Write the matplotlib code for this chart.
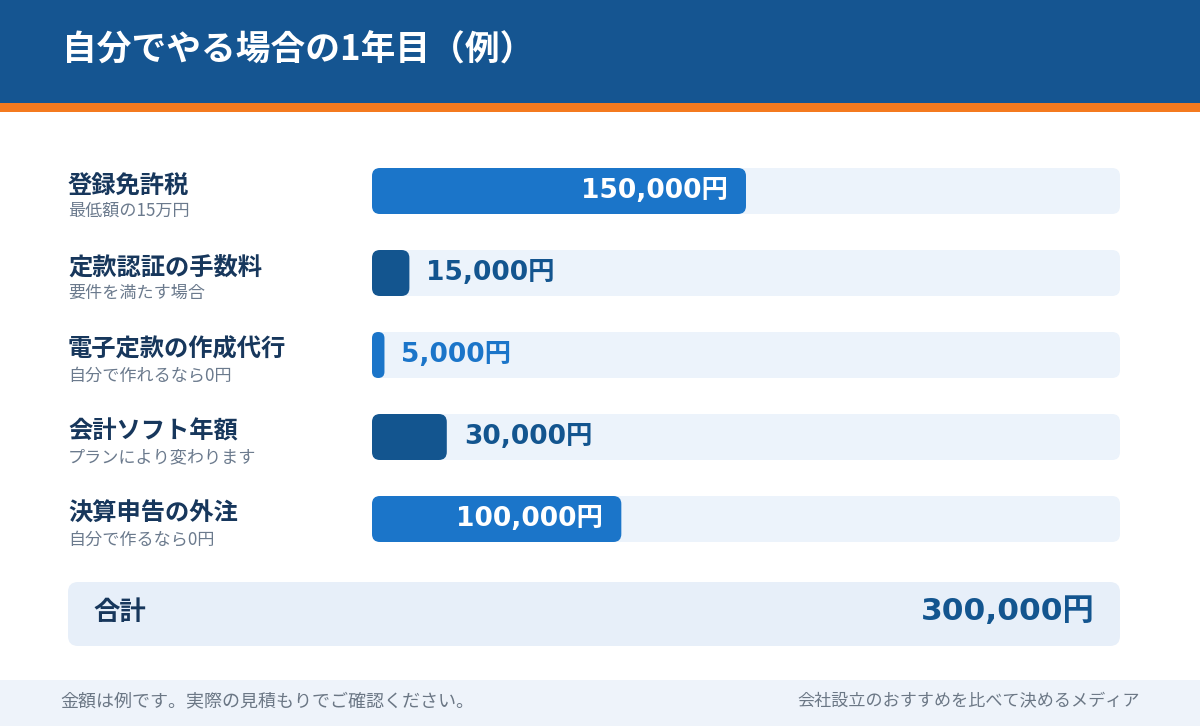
import matplotlib
matplotlib.use("Agg")
import matplotlib.pyplot as plt
from matplotlib.patches import FancyBboxPatch, Rectangle

plt.rcParams['font.family'] = ['Noto Sans CJK JP', 'DejaVu Sans']
NUM_FONT = ['DejaVu Sans', 'Noto Sans CJK JP']

# ---- data ----
title = "自分でやる場合の1年目（例）"
labels = ["登録免許税", "定款認証の手数料", "電子定款の作成代行", "会計ソフト年額", "決算申告の外注"]
sublabels = ["最低額の15万円", "要件を満たす場合", "自分で作れるなら0円", "プランにより変わります", "自分で作るなら0円"]
values = [150000, 15000, 5000, 30000, 100000]
total_label = "合計"
footer_left = "金額は例です。実際の見積もりでご確認ください。"
footer_right = "会社設立のおすすめを比べて決めるメディア"

# ---- style ----
W, H = 1200, 726
HEADER = "#155591"
ORANGE = "#f47a1f"
TRACK = "#ecf3fb"
BAR_COLORS = ["#1b75c9", "#13558f"]
LABEL_C = "#17375c"
SUB_C = "#6b7a8d"
TOTAL_BG = "#e7eff9"
FOOT_BG = "#eef3fa"
FOOT_C = "#6b7785"

fig = plt.figure(figsize=(W / 100, H / 100), dpi=100)
fig.patch.set_facecolor("white")

# background / decoration axes in pixel coordinates
bg = fig.add_axes([0, 0, 1, 1])
bg.set_xlim(0, W)
bg.set_ylim(H, 0)
bg.axis("off")
bg.add_patch(Rectangle((0, 0), W, 104, color=HEADER, lw=0))
bg.add_patch(Rectangle((0, 103), W, 9, color=ORANGE, lw=0))
bg.text(62, 50, title, color="white", fontsize=25, fontweight="bold", va="center", ha="left")
bg.add_patch(Rectangle((0, 680), W, 46, color=FOOT_BG, lw=0))
bg.text(60, 701, footer_left, color=FOOT_C, fontsize=13, va="center", ha="left")
bg.text(1140, 701, footer_right, color=FOOT_C, fontsize=12.3, va="center", ha="right")

# total box
bg.add_patch(FancyBboxPatch((68, 582), 1052, 64, boxstyle="round,pad=0,rounding_size=10",
                            fc=TOTAL_BG, ec="none"))
total = sum(values)
bg.text(93, 612, total_label, color=LABEL_C, fontsize=19, fontweight="bold", va="center", ha="left")
bg.text(1095, 612, f"{total:,}円", color=BAR_COLORS[1], fontsize=22.5, fontweight="bold",
        va="center", ha="right", family=NUM_FONT)

# bar axes
ax_left, ax_right, ax_top, ax_bot = 372, 1120, 168, 542
ax = fig.add_axes([ax_left / W, 1 - ax_bot / H, (ax_right - ax_left) / W, (ax_bot - ax_top) / H])
ax.set_xlim(0, total)
ax.set_ylim(ax_bot - ax_top, 0)
ax.axis("off")

px_per_x = (ax_right - ax_left) / total  # pixels per value unit
pitch, bh, rad_px = 82, 46, 8
aspect = px_per_x  # y-units per x-unit for equal rounding

def rbar(x0, w, yc, color, z):
    r = min(rad_px / px_per_x, w / 2)
    p = FancyBboxPatch((x0, yc - bh / 2), w, bh,
                       boxstyle=f"round,pad=0,rounding_size={r}",
                       mutation_aspect=aspect, fc=color, ec="none", zorder=z)
    ax.add_patch(p)

for i, (lab, sub, v) in enumerate(zip(labels, sublabels, values)):
    yc = i * pitch + bh / 2
    color = BAR_COLORS[i % 2]
    rbar(0, total, yc, TRACK, 1)
    rbar(0, v, yc, color, 2)
    txt = f"{v:,}円"
    if v / total > 0.2:
        ax.annotate(txt, (v, yc), xytext=(-18 * 0.72, 0), textcoords="offset points",
                    ha="right", va="center", color="white", fontsize=19, fontweight="bold",
                    zorder=3, family=NUM_FONT)
    else:
        ax.annotate(txt, (v, yc), xytext=(17 * 0.72, 0), textcoords="offset points",
                    ha="left", va="center", color=color, fontsize=19, fontweight="bold",
                    zorder=3, family=NUM_FONT)
    # labels on the left in figure pixel coordinates
    bg.text(68, ax_top + yc - 5, lab, color=LABEL_C, fontsize=17.5, fontweight="bold",
            va="center", ha="left")
    bg.text(68, ax_top + yc + 20, sub, color=SUB_C, fontsize=12.3, va="center", ha="left")

fig.savefig("out.png", dpi=100, facecolor="white")
